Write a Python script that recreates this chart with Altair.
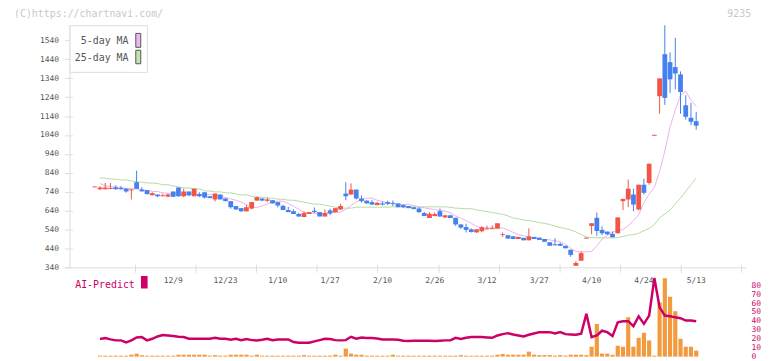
import altair as alt
import pandas as pd

MONO = "DejaVu Sans Mono"

# ---------------- data ----------------
date_labels = ["12/9", "12/23", "1/10", "1/27", "2/10", "2/26", "3/12", "3/27", "4/10", "4/24", "5/13"]
date_label_idx = [15, 25, 35, 45, 55, 65, 75, 85, 95, 105, 115]

opens = [764, 753, 753, 755, 763, 760, 756, 747, 790, 751, 748, 721, 725, 716, 714, 741, 762, 716, 741, 716,
         727, 737, 716, 699, 725, 704, 690, 664, 653, 636, 651, 693, 704, 692, 695, 685, 665, 643, 637, 622,
         606, 622, 639, 632, 609, 641, 632, 646, 730, 725, 751, 704, 693, 685, 669, 678, 685, 681, 678, 669,
         664, 658, 651, 627, 601, 611, 637, 604, 615, 602, 567, 553, 541, 525, 531, 541, 542, 545, 511, 510,
         504, 490, 496, 483, 501, 497, 490, 473, 462, 464, 454, 433, 349, 375, 492, 559, 602, 538, 529, 517,
         520, 690, 699, 725, 646, 777, 786, 1036, 1245, 1467, 1425, 1399, 1360, 1197, 1131, 1113]
highs = [768, 769, 786, 786, 774, 770, 758, 752, 851, 765, 748, 737, 725, 730, 730, 741, 762, 756, 741, 756,
         737, 737, 716, 730, 725, 704, 690, 664, 653, 669, 685, 714, 704, 709, 695, 685, 671, 660, 646, 627,
         636, 632, 657, 632, 646, 650, 653, 676, 790, 784, 751, 720, 693, 697, 686, 688, 693, 693, 678, 674,
         664, 658, 658, 634, 632, 630, 651, 618, 618, 602, 567, 571, 546, 541, 557, 560, 562, 573, 524, 510,
         504, 501, 496, 546, 501, 497, 490, 473, 494, 471, 454, 433, 373, 424, 497, 573, 630, 557, 529, 529,
         604, 702, 804, 756, 777, 809, 888, 1041, 1339, 1620, 1477, 1554, 1376, 1250, 1210, 1162]
lows = [763, 748, 752, 753, 751, 751, 735, 699, 754, 740, 727, 721, 711, 716, 711, 713, 713, 711, 716, 716,
        711, 704, 706, 688, 699, 690, 650, 643, 632, 636, 646, 693, 690, 685, 678, 657, 643, 632, 622, 606,
        606, 622, 627, 609, 609, 616, 629, 643, 695, 725, 699, 683, 678, 669, 669, 667, 669, 664, 658, 653,
        653, 648, 627, 611, 601, 611, 606, 601, 601, 559, 543, 524, 524, 522, 525, 541, 542, 545, 501, 492,
        490, 490, 483, 483, 490, 485, 475, 454, 454, 454, 441, 396, 349, 375, 492, 515, 506, 510, 511, 499,
        520, 643, 658, 637, 641, 725, 777, 1036, 1152, 1199, 1262, 1281, 1152, 1122, 1092, 1068]
closes = [768, 762, 762, 760, 753, 753, 741, 752, 755, 742, 727, 732, 716, 721, 725, 713, 716, 741, 721, 756,
          716, 709, 706, 730, 699, 690, 658, 646, 637, 658, 685, 711, 693, 699, 678, 667, 643, 632, 622, 609,
          627, 632, 632, 609, 627, 625, 653, 664, 716, 751, 704, 690, 678, 672, 681, 672, 676, 676, 658, 658,
          653, 648, 632, 611, 623, 622, 609, 615, 601, 567, 550, 538, 527, 541, 552, 546, 547, 573, 515, 492,
          490, 501, 483, 504, 490, 485, 475, 454, 457, 454, 441, 406, 363, 415, 497, 573, 532, 520, 515, 499,
          604, 702, 756, 672, 777, 734, 888, 1041, 1339, 1236, 1334, 1365, 1267, 1136, 1110, 1089]

# the following series start at the second candle (index 1)
ma5 = [783, 772, 767, 765, 762, 758, 756, 755, 751, 746, 742, 741, 734, 732, 728, 728, 727, 727, 727, 727,
       725, 725, 723, 714, 709, 702, 695, 685, 671, 657, 657, 664, 676, 686, 690, 690, 678, 664, 646, 632,
       625, 625, 625, 625, 629, 630, 632, 646, 667, 686, 699, 706, 706, 695, 688, 681, 676, 672, 672, 672,
       667, 658, 655, 650, 646, 641, 637, 629, 611, 601, 587, 573, 557, 548, 548, 548, 548, 548, 538, 525,
       513, 508, 497, 496, 490, 487, 485, 480, 476, 462, 441, 424, 422, 422, 424, 454, 489, 510, 527, 532,
       541, 559, 588, 618, 681, 728, 763, 847, 955, 1083, 1171, 1250, 1271, 1225, 1190]
ma25 = [812, 812, 807, 807, 802, 802, 797, 791, 791, 786, 786, 783, 777, 777, 770, 765, 760, 760, 755, 755,
        744, 744, 739, 739, 734, 734, 728, 723, 723, 716, 711, 711, 706, 706, 700, 700, 695, 695, 690, 685,
        679, 674, 674, 669, 664, 658, 653, 653, 653, 658, 658, 658, 658, 658, 658, 658, 660, 660, 660, 660,
        660, 660, 660, 660, 660, 660, 660, 657, 653, 652, 650, 650, 644, 639, 635, 630, 625, 620, 612, 601,
        597, 590, 587, 583, 576, 573, 566, 559, 550, 545, 538, 527, 513, 501, 497, 497, 496, 496, 496, 497,
        503, 510, 513, 520, 534, 545, 566, 602, 622, 643, 676, 706, 742, 777, 812]
ai_predict = [19.7, 20.8, 19.3, 18.2, 18.2, 16.0, 18.2, 21.5, 21.9, 18.2, 20.0, 22.6, 24.1, 23.7, 23.0, 22.2,
              21.9, 20.0, 20.0, 20.0, 20.0, 20.0, 21.1, 20.0, 20.0, 18.9, 20.0, 18.5, 19.7, 18.5, 18.2, 18.9,
              20.0, 18.5, 19.3, 19.3, 19.3, 16.3, 15.6, 15.6, 15.6, 17.1, 18.5, 20.0, 19.7, 18.5, 18.2, 18.5,
              22.2, 20.0, 21.5, 20.8, 20.8, 20.4, 19.3, 19.3, 19.3, 18.9, 17.8, 17.4, 17.8, 17.8, 17.8, 17.8,
              17.4, 17.8, 18.2, 18.2, 21.1, 19.7, 21.1, 21.9, 21.9, 21.9, 21.5, 21.1, 23.7, 25.2, 26.3, 24.8,
              23.7, 22.6, 24.5, 25.9, 27.4, 27.4, 27.4, 25.9, 27.4, 25.2, 24.8, 24.5, 25.6, 48.0, 21.9, 23.7,
              29.0, 27.4, 23.0, 38.5, 39.7, 39.7, 34.1, 45.2, 36.7, 46.0, 88.0, 55.2, 46.0, 45.2, 44.0, 43.0,
              40.4, 40.4, 39.7]
volume = [1.1, 1.1, 1.1, 1.1, 1.1, 1.1, 2.2, 3.3, 1.5, 1.1, 1.1, 1.1, 1.1, 1.1, 1.1, 2.2, 2.2, 2.2, 2.2, 2.2,
          2.2, 1.1, 1.7, 1.1, 1.1, 2.2, 2.2, 2.2, 2.2, 1.1, 2.2, 1.1, 1.1, 1.1, 1.1, 1.1, 1.1, 1.1, 1.1, 1.7,
          1.1, 1.1, 1.1, 1.1, 1.1, 2.2, 1.1, 9.0, 3.4, 2.2, 2.2, 1.1, 1.1, 1.1, 1.1, 1.1, 2.2, 1.1, 1.1, 1.1,
          1.1, 1.1, 1.1, 1.1, 1.1, 1.1, 1.1, 1.1, 1.1, 1.7, 1.1, 1.1, 1.1, 1.1, 1.1, 1.1, 2.2, 3.0, 2.2, 2.2,
          2.2, 2.2, 5.6, 2.2, 1.7, 1.7, 1.7, 1.1, 1.7, 1.1, 2.2, 2.2, 2.2, 1.7, 11.1, 36.7, 3.4, 3.4, 2.0, 12.2,
          11.1, 44.1, 11.1, 21.1, 26.7, 18.1, 1.1, 60.8, 87.8, 67.1, 50.8, 20.0, 11.1, 11.1, 6.7]

price_ticks = list(range(340, 1541, 100))
ai_ticks = list(range(0, 81, 10))

# ---------------- styling ----------------
RED = "#f05545"
BLUE = "#4680ee"
PINK = "#eeb0ee"
GREEN = "#b4dca4"
MAGENTA = "#cc0066"
ORANGE = "#f29a3e"
GRID = "#dddddd"
TXT = "#555555"

W, H = 682, 334
TOP_H = 244

candles = pd.DataFrame({"i": list(range(len(opens))), "o": opens, "h": highs, "l": lows, "c": closes})
candles["dir"] = ["up" if c >= o else "down" for o, c in zip(opens, closes)]
series = pd.DataFrame({"i": list(range(1, len(ma5) + 1)), "ma5": ma5, "ma25": ma25,
                       "ai": ai_predict, "vol": volume})
labels_df = pd.DataFrame({"i": date_label_idx, "t": date_labels})
one = pd.DataFrame({"k": [0]})

X_DOM = [-3.88, 123.6]
x_tick_vals = [X_DOM[0] + k * (X_DOM[1] - X_DOM[0]) / 11 for k in range(1, 12)]
x_tick_vals[-1] -= 1e-6

xs = alt.Scale(domain=X_DOM, nice=False, zero=False)
x_axis = alt.Axis(values=x_tick_vals, labels=False, domain=False, grid=False, tickSize=8,
                  tickColor=GRID, offset=-(H - TOP_H + 3), orient="bottom", title=None)
X = alt.X("i:Q", scale=xs, axis=x_axis)

ys_top = alt.Scale(domain=[340, 1620], range=[TOP_H, 0], nice=False, zero=False)
y_top_axis = alt.Axis(values=price_ticks, format="d", orient="left", offset=-3, tickSize=8, domain=False,
                      grid=False, labelPadding=6, labelFont=MONO, labelFontSize=8, labelColor=TXT,
                      tickColor=GRID, title=None)
ys_bot = alt.Scale(domain=[0, 90], range=[H, H - 81], nice=False, zero=False)
y_bot_axis = alt.Axis(values=ai_ticks, format="d", orient="right", domain=False, ticks=False, tickSize=0,
                      grid=False, labelPadding=5, labelFont=MONO, labelFontSize=8, labelColor=MAGENTA,
                      title=None)

color = alt.Color("dir:N", scale=alt.Scale(domain=["up", "down"], range=[RED, BLUE]), legend=None)

wicks = alt.Chart(candles).mark_rule(strokeWidth=1).encode(
    x=X, y=alt.Y("l:Q", scale=ys_top, axis=y_top_axis), y2="h:Q", color=color)
bodies = alt.Chart(candles).mark_bar(size=4.8).encode(
    x=X, y=alt.Y("o:Q", scale=ys_top, axis=y_top_axis), y2="c:Q", color=color)
ma25_line = alt.Chart(series).mark_line(color=GREEN, strokeWidth=1).encode(
    x=X, y=alt.Y("ma25:Q", scale=ys_top, axis=y_top_axis))
ma5_line = alt.Chart(series).mark_line(color=PINK, strokeWidth=1).encode(
    x=X, y=alt.Y("ma5:Q", scale=ys_top, axis=y_top_axis))
date_text = alt.Chart(labels_df).mark_text(font=MONO, fontSize=8, color=TXT, align="center",
                                           baseline="middle").encode(
    x=X, y=alt.value(TOP_H + 14), text="t:N")

top = alt.layer(ma25_line, ma5_line, wicks, bodies, date_text)

vol_bars = alt.Chart(series).mark_bar(size=4.2, color=ORANGE).encode(
    x=X, y=alt.Y("vol:Q", scale=ys_bot, axis=y_bot_axis), y2=alt.Y2(datum=0))
ai_line = alt.Chart(series).mark_line(color=MAGENTA, strokeWidth=2.5).encode(
    x=X, y=alt.Y("ai:Q", scale=ys_bot, axis=y_bot_axis))
bottom = alt.layer(vol_bars, ai_line)

# frame lines
vline = alt.Chart(one).mark_rule(color=GRID, strokeWidth=1).encode(
    x=alt.value(0.5), y=alt.value(0), y2=alt.value(TOP_H + 0.5))
hline = alt.Chart(one).mark_rule(color=GRID, strokeWidth=1).encode(
    x=alt.value(-5), x2=alt.value(W), y=alt.value(TOP_H + 0.5))

# legend box
leg_box = alt.Chart(one).mark_rect(fill="white", stroke=GRID, strokeWidth=1).encode(
    x=alt.value(0.5), x2=alt.value(78.5), y=alt.value(0.5), y2=alt.value(47.5))
leg_t1 = alt.Chart(one).mark_text(text="5-day MA", font=MONO, fontSize=10, color=TXT, align="right",
                                  baseline="middle").encode(x=alt.value(59.5), y=alt.value(15.5))
leg_t2 = alt.Chart(one).mark_text(text="25-day MA", font=MONO, fontSize=10, color=TXT, align="right",
                                  baseline="middle").encode(x=alt.value(59.5), y=alt.value(33))
leg_s1 = alt.Chart(one).mark_rect(fill="#f0b8f0", stroke=TXT, strokeWidth=1).encode(
    x=alt.value(66.8), x2=alt.value(71.8), y=alt.value(8.2), y2=alt.value(22.2))
leg_s2 = alt.Chart(one).mark_rect(fill="#c4e4b4", stroke=TXT, strokeWidth=1).encode(
    x=alt.value(66.8), x2=alt.value(71.8), y=alt.value(25.2), y2=alt.value(38.8))

# texts around
copy_t = alt.Chart(one).mark_text(text="(C)https://chartnavi.com/", font=MONO, fontSize=10, color="#c8c8c8",
                                  align="left", baseline="middle").encode(x=alt.value(-56), y=alt.value(-11.5))
code_t = alt.Chart(one).mark_text(text="9235", font=MONO, fontSize=10, color="#c8c8c8",
                                  align="right", baseline="middle").encode(x=alt.value(687), y=alt.value(-11.5))
ai_t = alt.Chart(one).mark_text(text="AI-Predict", font=MONO, fontSize=10, color=MAGENTA,
                                align="left", baseline="middle").encode(x=alt.value(5.7), y=alt.value(262))
ai_s = alt.Chart(one).mark_rect(fill=MAGENTA).encode(
    x=alt.value(72), x2=alt.value(78.7), y=alt.value(252.7), y2=alt.value(265.3))

chart = alt.layer(
    top, bottom, vline, hline, leg_box, leg_t1, leg_t2, leg_s1, leg_s2, copy_t, code_t, ai_t, ai_s
).resolve_scale(y="independent").properties(
    width=W, height=H,
    autosize=alt.AutoSizeParams(type="none"),
    padding={"left": 62, "top": 16, "right": 18, "bottom": 3},
    background="white",
).configure_view(stroke=None)

chart.save("out.html", embed_options={"renderer": "svg", "actions": False})
